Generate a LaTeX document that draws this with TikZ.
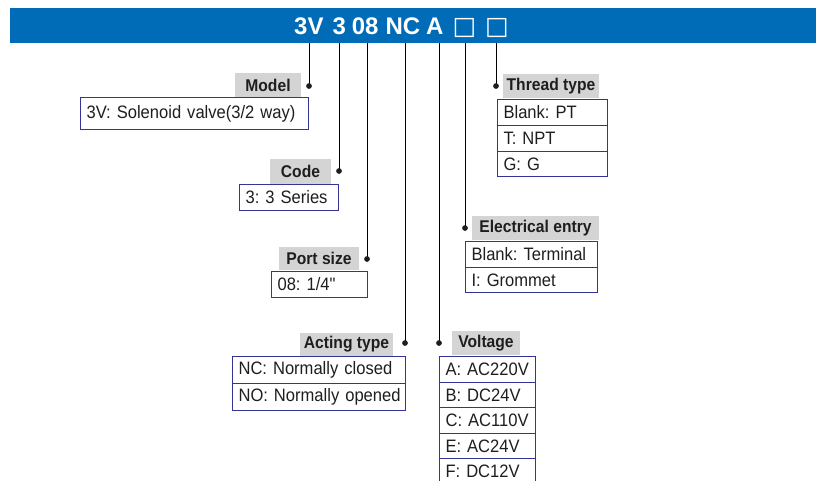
\documentclass[tikz,border=0pt]{standalone}
\usepackage{fontspec}
\setmainfont[FakeStretch=0.92]{Liberation Sans}
\newfontfamily\bannerfont{Liberation Sans}
\newfontfamily\squarefont{DejaVu Sans}
\usetikzlibrary{calc}

\definecolor{bannerblue}{RGB}{0,107,182}
\definecolor{headgray}{RGB}{212,212,212}
\definecolor{rowblue}{RGB}{52,52,150}
\definecolor{ink}{RGB}{30,30,30}

\tikzset{
  head/.style={fill=headgray, text=ink, inner sep=0pt,
    font=\fontsize{17}{19}\selectfont\bfseries},
  row/.style={draw=rowblue, line width=1.1pt, text=ink, anchor=north west,
    inner xsep=6pt, inner ysep=0pt, align=left, text width=#1,
    font=\fontsize{18}{20}\selectfont},
}

\begin{document}
\frenchspacing
\begin{tikzpicture}[x=1pt, y=-1pt]

\useasboundingbox (0,0) rectangle (816,480);

% banner
\fill[bannerblue] (10,8) rectangle (816,43);
\node[anchor=base west, text=white, inner sep=0pt,
  font=\bannerfont\fontsize{24}{26}\selectfont\bfseries] (code) at (294,34)
  {3V\hspace{9pt}3\hspace{6pt}08\hspace{7pt}NC\hspace{6pt}A\hspace{9pt}{\squarefont\fontsize{25}{26}\selectfont □\hspace{9pt}□}};

% line tops on the banner
\coordinate (tModel) at (309,43);
\coordinate (tCode) at (339,43);
\coordinate (tPort) at (367,43);
\coordinate (tAct) at (405,43);
\coordinate (tVolt) at (439,43);
\coordinate (tElec) at (465,43);
\coordinate (tThread) at (496,43);

% dots
\coordinate (dModel) at (309,86);
\coordinate (dCode) at (339,171);
\coordinate (dPort) at (367,259);
\coordinate (dAct) at (405,343);
\coordinate (dVolt) at (439,343);
\coordinate (dElec) at (465,228);
\coordinate (dThread) at (496,86);

% headings
\node[head, minimum width=66pt, minimum height=24pt] (hModel) at (268,85) {Model};
\node[head, minimum width=61pt, minimum height=25pt] (hCode) at (300.5,171.5) {Code};
\node[head, minimum width=80pt, minimum height=23pt] (hPort) at (319,258.5) {Port size};
\node[head, minimum width=93pt, minimum height=23pt] (hAct) at (346.5,344.5) {Acting type};
\node[head, minimum width=96pt, minimum height=24pt] (hThread) at (551,86) {Thread type};
\node[head, minimum width=127pt, minimum height=24pt] (hElec) at (535.5,228) {Electrical entry};
\node[head, minimum width=68pt, minimum height=24pt] (hVolt) at (486,343) {Voltage};

% option rows
\node[row=216pt, minimum height=32pt] (m1) at (80,97) {3V: Solenoid valve(3/2 way)};

\node[row=87pt, minimum height=26pt] (c1) at (239,184) {3: 3 Series};

\node[row=84pt, minimum height=26pt] (p1) at (271,271) {08: 1/4\textquotedbl};

\node[row=161pt, minimum height=27pt] (a1) at (232,356) {NC: Normally closed};
\node[row=161pt, minimum height=27pt] (a2) at (232,383) {\mbox{NO: Normally opened}};

\node[row=98pt, minimum height=26pt] (t1) at (497,99) {Blank: PT};
\node[row=98pt, minimum height=26pt] (t2) at (497,125) {T: NPT};
\node[row=98pt, minimum height=25pt] (t3) at (497,151) {G: G};

\node[row=120pt, minimum height=26pt] (e1) at (465,241) {\mbox{Blank: Terminal}};
\node[row=120pt, minimum height=25pt] (e2) at (465,267) {I: Grommet};

\node[row=84pt, minimum height=26pt] (v1) at (439,356) {A: AC220V};
\node[row=84pt, minimum height=25pt] (v2) at (439,382) {B: DC24V};
\node[row=84pt, minimum height=26pt] (v3) at (439,407) {C: AC110V};
\node[row=84pt, minimum height=25pt] (v4) at (439,433) {E: AC24V};
\node[row=84pt, minimum height=26pt] (v5) at (439,458) {F: DC12V};

% leader lines
\draw[line width=0.8pt] (tModel) -- (dModel);
\draw[line width=0.8pt] (tCode) -- (dCode);
\draw[line width=0.8pt] (tPort) -- (dPort);
\draw[line width=0.8pt] (tAct) -- (dAct);
\draw[line width=0.8pt] (tVolt) -- (dVolt);
\draw[line width=0.8pt] (tElec) -- (dElec);
\draw[line width=0.8pt] (tThread) -- (dThread);

\filldraw[ink] (dModel) circle (2.6pt);
\filldraw[ink] (dCode) circle (2.6pt);
\filldraw[ink] (dPort) circle (2.6pt);
\filldraw[ink] (dAct) circle (2.6pt);
\filldraw[ink] (dVolt) circle (2.6pt);
\filldraw[ink] (dElec) circle (2.6pt);
\filldraw[ink] (dThread) circle (2.6pt);

\end{tikzpicture}
\end{document}
